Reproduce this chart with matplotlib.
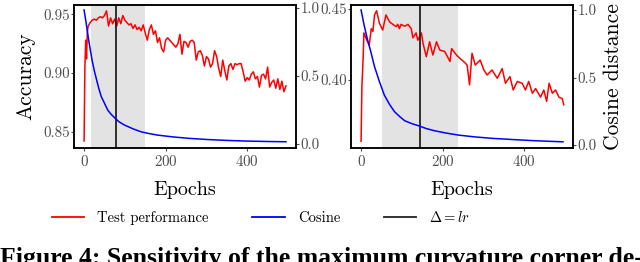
import matplotlib
matplotlib.use("Agg")
import matplotlib.pyplot as plt
from matplotlib.lines import Line2D

plt.rcParams['font.family'] = ['cmr10', 'DejaVu Serif']
plt.rcParams['mathtext.fontset'] = 'cm'
plt.rcParams['axes.formatter.use_mathtext'] = True

# ------------------------------------------------------------------
# Data
# ------------------------------------------------------------------

# left panel: accuracy
left_epochs = [0, 2, 4, 6, 8, 10, 15, 20, 25, 30, 35, 40, 45, 50, 55, 60, 65, 70,
               75, 80, 85, 90, 95, 100, 105, 110, 115, 120, 125, 130, 135, 140,
               145, 150, 155, 160, 165, 170, 175, 180, 185, 190, 195, 200, 205,
               210, 215, 220, 225, 230, 235, 240, 245, 250, 255, 260, 265, 270,
               275, 280, 285, 290, 295, 300, 305, 310, 315, 320, 325, 330, 335,
               340, 345, 350, 355, 360, 365, 370, 375, 380, 385, 390, 395, 400,
               405, 410, 415, 420, 425, 430, 435, 440, 445, 450, 455, 460, 465,
               470, 475, 480, 485, 490, 495]
left_acc = [0.842, 0.905, 0.928, 0.912, 0.935, 0.940, 0.943, 0.945, 0.946, 0.945,
            0.947, 0.948, 0.947, 0.949, 0.953, 0.940, 0.947, 0.942, 0.946, 0.940,
            0.947, 0.942, 0.949, 0.945, 0.943, 0.941, 0.942, 0.938, 0.941, 0.937,
            0.939, 0.936, 0.941, 0.934, 0.928, 0.937, 0.941, 0.933, 0.936, 0.926,
            0.930, 0.921, 0.918, 0.928, 0.930, 0.928, 0.926, 0.924, 0.922, 0.925,
            0.933, 0.916, 0.927, 0.926, 0.922, 0.927, 0.928, 0.926, 0.911, 0.918,
            0.919, 0.915, 0.906, 0.914, 0.912, 0.905, 0.908, 0.919, 0.914, 0.904,
            0.897, 0.911, 0.902, 0.894, 0.906, 0.908, 0.903, 0.908, 0.907, 0.908,
            0.908, 0.901, 0.893, 0.896, 0.894, 0.899, 0.901, 0.895, 0.897, 0.888,
            0.898, 0.899, 0.895, 0.905, 0.888, 0.892, 0.894, 0.887, 0.895, 0.886,
            0.893, 0.884, 0.889]

left_cos_epochs = [0, 3, 6, 9, 12, 16, 20, 25, 30, 36, 42, 50, 58, 66, 74, 85, 99,
                   120, 140, 160, 180, 220, 258, 300, 350, 400, 450, 495]
left_cos = [0.985, 0.93, 0.87, 0.81, 0.75, 0.68, 0.61, 0.54, 0.48, 0.41, 0.35,
            0.30, 0.25, 0.22, 0.196, 0.165, 0.14, 0.112, 0.09, 0.077, 0.066,
            0.052, 0.042, 0.034, 0.027, 0.022, 0.019, 0.017]

left_band = (17, 150)
left_lr = 78

# right panel
right_epochs = [0, 2, 5, 7, 10, 14, 20, 25, 29, 33, 38, 45, 53, 61, 70, 78, 86,
                90, 94, 98, 107, 115, 123, 127, 135, 139, 148, 152, 160, 168, 176,
                185, 193, 205, 218, 222, 234, 243, 255, 260, 266, 272, 280, 292,
                301, 309, 321, 334, 346, 354, 365, 373, 383, 395, 403, 411, 420,
                428, 440, 448, 455, 461, 469, 477, 485, 493, 497]
right_acc = [0.357, 0.395, 0.415, 0.433, 0.431, 0.428, 0.4245, 0.436, 0.434,
             0.4456, 0.4486, 0.4398, 0.435, 0.4456, 0.4407, 0.439, 0.4374, 0.439,
             0.436, 0.439, 0.4377, 0.439, 0.436, 0.4296, 0.433, 0.4279, 0.433,
             0.4256, 0.4163, 0.4268, 0.4175, 0.4268, 0.421, 0.420, 0.413, 0.422,
             0.4175, 0.415, 0.412, 0.4105, 0.3966, 0.4187, 0.4105, 0.414, 0.407,
             0.4035, 0.407, 0.4012, 0.408, 0.3977, 0.4024, 0.393, 0.399, 0.3977,
             0.393, 0.399, 0.3907, 0.394, 0.388, 0.393, 0.385, 0.3977, 0.3907,
             0.393, 0.388, 0.387, 0.3826]

right_cos_epochs = [0, 8, 16, 24, 33, 45, 57, 70, 82, 95, 107, 125, 143, 160, 180,
                    210, 238, 280, 320, 365, 420, 460, 495]
right_cos = [1.0, 0.88, 0.778, 0.69, 0.58, 0.47, 0.37, 0.30, 0.247, 0.21, 0.18,
             0.158, 0.141, 0.122, 0.106, 0.088, 0.074, 0.060, 0.050, 0.042,
             0.033, 0.028, 0.024]

right_band = (51, 237)
right_lr = 145

x_ticks = [0, 200, 400]
cos_ticks = [0.0, 0.5, 1.0]

TICK_GREY = '#4d4d4d'


def style_axis(ax):
    for s in ax.spines.values():
        s.set_color('black')
        s.set_linewidth(1.1)
    ax.tick_params(colors=TICK_GREY, labelsize=10.8, length=2, width=0.8,
                   pad=1.0)


def draw_panel(ax, epochs, acc, cos_epochs, cos, band, lr, acc_ticks, acc_lim,
               cos_lim):
    ax.axvspan(band[0], band[1], color='#e3e3e3', lw=0, zorder=0)
    ax.axvline(lr, color='#222222', lw=1.3, zorder=3)
    ax.plot(epochs, acc, color='#ff0000', lw=1.1, zorder=2)
    ax.set_xlim(-24.75, 519.75)
    ax.set_ylim(*acc_lim)
    ax.set_xticks(x_ticks)
    ax.set_yticks(acc_ticks)
    ax.set_yticklabels([f'{t:.2f}' for t in acc_ticks])
    ax.set_xlabel('Epochs', fontsize=14.5, labelpad=9)
    style_axis(ax)
    ax.tick_params(axis='x', pad=2)

    ax2 = ax.twinx()
    ax2.plot(cos_epochs, cos, color='#0000ff', lw=1.1, zorder=2)
    ax2.set_ylim(*cos_lim)
    ax2.set_yticks(cos_ticks)
    ax2.set_yticklabels([f'{t:.1f}' for t in cos_ticks])
    style_axis(ax2)
    return ax2


fig = plt.figure(figsize=(6.4, 2.62), dpi=100)
ax_l = fig.add_axes([0.1156, 0.435, 0.347, 0.546])
ax_r = fig.add_axes([0.5484, 0.435, 0.347, 0.546])

draw_panel(ax_l, left_epochs, left_acc, left_cos_epochs, left_cos, left_band,
           left_lr, [0.85, 0.90, 0.95], (0.836, 0.958), (-0.029, 1.022))
ax_l.set_ylabel('Accuracy', fontsize=15.5, labelpad=6)

ax2_r = draw_panel(ax_r, right_epochs, right_acc, right_cos_epochs, right_cos,
                   right_band, right_lr, [0.40, 0.45], (0.3523, 0.4526),
                   (-0.022, 1.037))
ax2_r.set_ylabel('Cosine distance', fontsize=15.5, labelpad=5)

handles = [Line2D([], [], color='#ff0000', lw=1.3),
           Line2D([], [], color='#0000ff', lw=1.3),
           Line2D([], [], color='#222222', lw=1.3)]
labels = ['Test performance', 'Cosine', r'$\Delta = lr$']
fig.legend(handles, labels, loc='center', bbox_to_anchor=(0.408, 0.168), ncol=3,
           frameon=False, fontsize=10.5, handlelength=2.2, columnspacing=3.0,
           handletextpad=0.9)

fig.text(0.0, -0.012, 'Figure 4: Sensitivity of the maximum curvature corner de-',
         ha='left', va='baseline', fontsize=18.5, fontweight='bold',
         family='Liberation Serif')

fig.savefig('out.png', dpi=100)
